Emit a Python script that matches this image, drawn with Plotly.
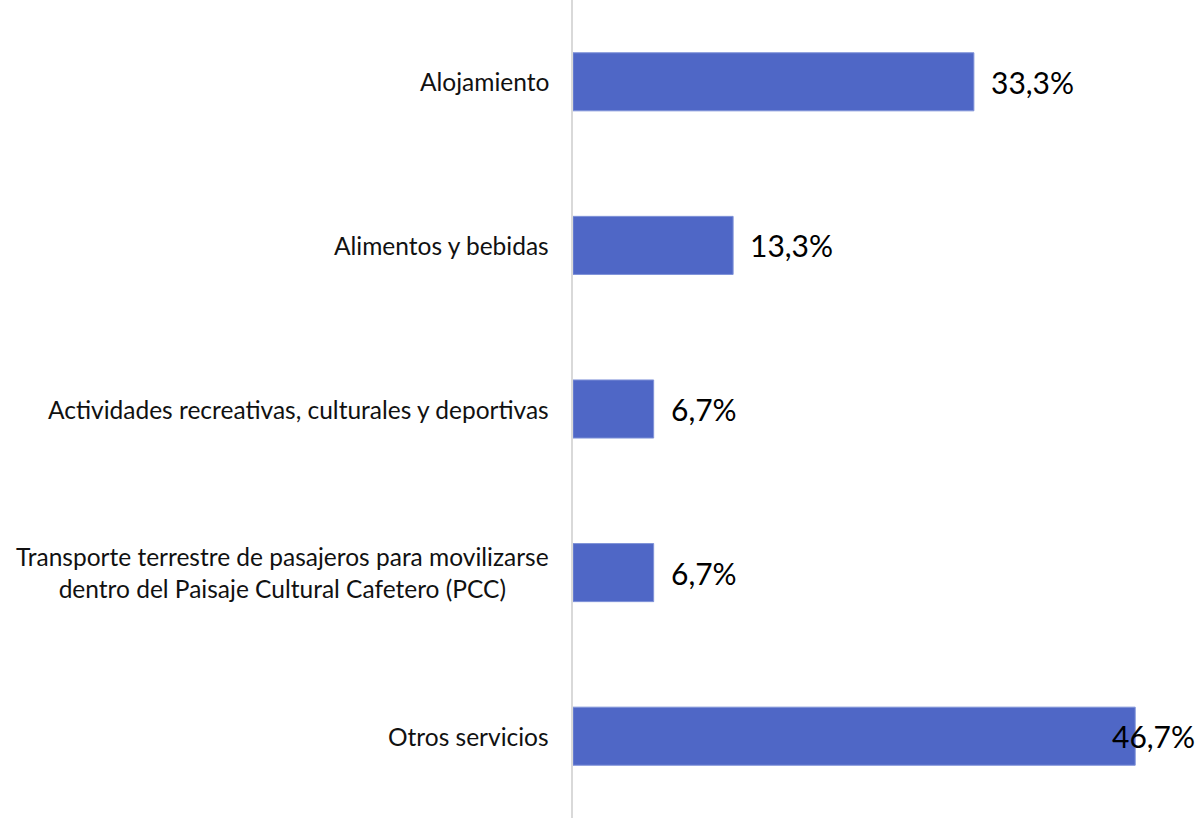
import plotly.graph_objects as go

# Servicios contratados (%)
categories = [
    "Alojamiento",
    "Alimentos y bebidas",
    "Actividades recreativas, culturales y deportivas",
    "Transporte terrestre de pasajeros para movilizarse<br>dentro del Paisaje Cultural Cafetero (PCC)",
    "Otros servicios",
]
values = [33.3, 13.3, 6.7, 6.7, 46.7]

bar_color = "#4F67C6"
font_family = "Lato, 'Open Sans', sans-serif"
x_max = 52.0

labels = [f"{v:.1f}".replace(".", ",") + "%" for v in values]

fig = go.Figure()
fig.add_trace(go.Bar(
    x=values,
    y=categories,
    orientation="h",
    marker=dict(color=bar_color, line=dict(color="#7f92d8", width=1)),
    hoverinfo="skip",
))

# value labels just past the bar end; the widest one is pulled back inside the axis range
for cat, v, lab in zip(categories, values, labels):
    if v > x_max - 6:
        fig.add_annotation(x=x_max, y=cat, xref="x", yref="y", text=lab,
                           showarrow=False, xanchor="right", xshift=-2,
                           font=dict(size=30, color="#000000", family=font_family))
    else:
        fig.add_annotation(x=v, y=cat, xref="x", yref="y", text=lab,
                           showarrow=False, xanchor="left", xshift=15,
                           font=dict(size=30, color="#000000", family=font_family))

# category labels, centred on multiple lines like the original
for cat in categories:
    fig.add_annotation(x=0, y=cat, xref="paper", yref="y", text=cat,
                       showarrow=False, xanchor="right", xshift=-22, align="center",
                       font=dict(size=24.5, color="#111111", family=font_family))

fig.update_layout(
    width=1199, height=818,
    margin=dict(l=573, r=0, t=0, b=0),
    plot_bgcolor="white", paper_bgcolor="white",
    bargap=0.645,
    showlegend=False,
)
fig.update_xaxes(range=[0, x_max], showgrid=False, zeroline=False,
                 showticklabels=False, showline=False)
fig.update_yaxes(autorange="reversed", showgrid=False, showticklabels=False,
                 showline=True, linecolor="#D9D9D9", linewidth=2, ticks="")

# drop the default page margin so the figure sits flush in the window
fig.write_html("out.html", config={"displayModeBar": False},
               post_script="document.body.style.margin='0';document.body.style.overflow='hidden';")
